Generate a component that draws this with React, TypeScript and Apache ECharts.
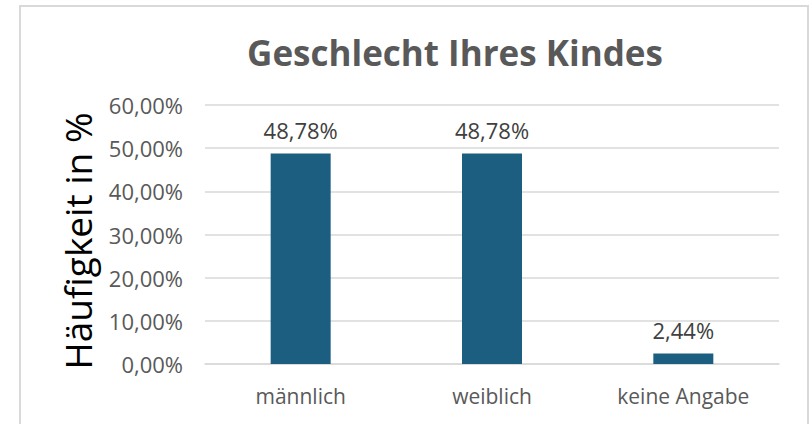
import React, { useEffect, useRef } from "react";
import * as echarts from "echarts";

const categories = ["männlich", "weiblich", "keine Angabe"];
const values = [48.78, 48.78, 2.44];
const yMin = 0;
const yMax = 60;
const yInterval = 10;
const titleText = "Geschlecht Ihres Kindes";
const yAxisTitle = "Häufigkeit in %";

const FONT = "'Open Sans', sans-serif";

const fmt = (v: number) => v.toFixed(2).replace(".", ",") + "%";

export default function App() {
  const ref = useRef<HTMLDivElement>(null);
  useEffect(() => {
    if (!ref.current) return;
    const chart = echarts.init(ref.current, null, { renderer: "svg" });
    chart.setOption({
      animation: false,
      backgroundColor: "#ffffff",
      textStyle: { fontFamily: FONT },
      grid: { left: 205, right: 30, top: 105, bottom: 60, containLabel: false },
      xAxis: {
        type: "category",
        data: categories,
        axisLine: { show: true, lineStyle: { color: "#d9d9d9", width: 1.5 } },
        axisTick: { show: false },
        axisLabel: { color: "#595959", fontSize: 21, fontFamily: FONT, margin: 21 },
      },
      yAxis: {
        type: "value",
        min: yMin,
        max: yMax,
        interval: yInterval,
        axisLine: { show: false },
        axisTick: { show: false },
        splitLine: { show: true, lineStyle: { color: "#d9d9d9", width: 1.5 } },
        axisLabel: {
          color: "#595959",
          fontSize: 22,
          fontFamily: FONT,
          margin: 22,
          formatter: (v: number) => fmt(v),
        },
      },
      series: [
        {
          type: "bar",
          data: values,
          barWidth: 60,
          itemStyle: { color: "#1B5E80" },
          label: {
            show: true,
            position: "top",
            distance: 12,
            color: "#404040",
            fontSize: 22,
            fontFamily: FONT,
            formatter: (p: any) => fmt(p.value),
          },
        },
      ],
      graphic: [
        {
          type: "rect",
          shape: { x: 20, y: 6, width: 788, height: 440 },
          style: { fill: "none", stroke: "#d9d9d9", lineWidth: 2 },
          silent: true,
        },
        {
          type: "text",
          x: 455,
          y: 52,
          style: {
            text: titleText,
            fill: "#595959",
            font: `bold 35px ${FONT}`,
            textAlign: "center",
            textVerticalAlign: "middle",
          },
        },
        {
          type: "text",
          x: 77,
          y: 241,
          rotation: Math.PI / 2,
          style: {
            text: yAxisTitle,
            fill: "#000000",
            font: `37px ${FONT}`,
            textAlign: "center",
            textVerticalAlign: "middle",
          },
        },
      ],
    });
    return () => chart.dispose();
  }, []);
  return (
    <div
      ref={ref}
      style={{ position: "absolute", left: 0, top: 0, width: 809, height: 424 }}
    />
  );
}
